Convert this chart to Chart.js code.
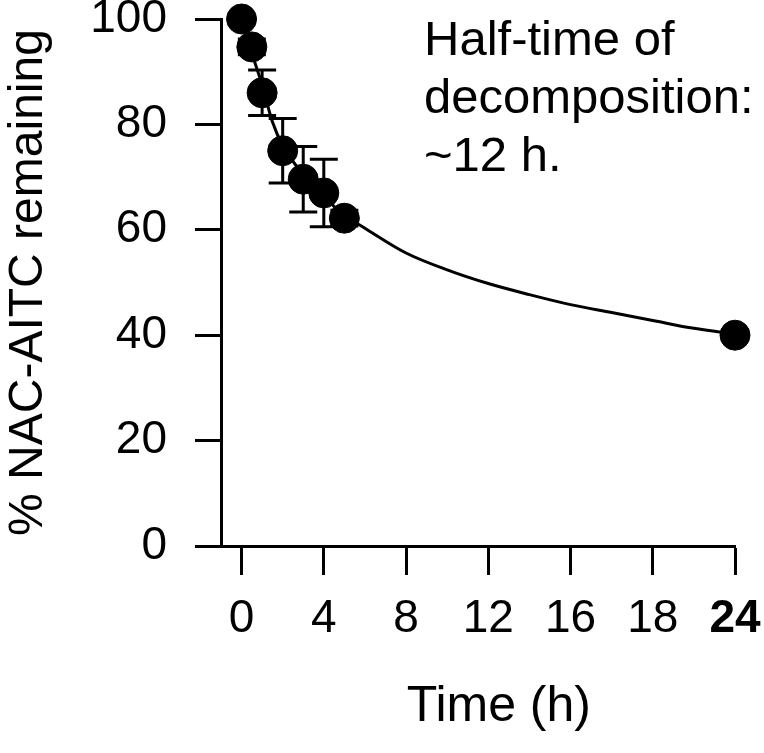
<!DOCTYPE html>
<html>
<head>
<meta charset="utf-8">
<script src="https://cdn.jsdelivr.net/npm/chart.js@4.4.1/dist/chart.umd.min.js"></script>
<style>
  html, body { margin: 0; padding: 0; background: #fff; }
</style>
</head>
<body>
<canvas id="chart" width="764" height="753"></canvas>
<script>
// measured points: time (h), % NAC-AITC remaining, error
var timePoints = [0, 0.5, 1, 2, 3, 4, 5, 24];
var remaining = [100, 94.7, 86, 75, 69.6, 67, 62.2, 40];
var errors = [0, 1.5, 4.3, 6.1, 6.2, 6.4, 1.5, 1];

// fitted decay curve
var fitTimes = [0, 0.5, 1, 1.5, 2, 3, 4, 5, 6, 8, 10, 12, 14, 16, 18, 20, 22, 24];
var fitValues = [100, 93.5, 87.5, 80.5, 76, 70.5, 66.3, 62.8, 60.3, 55.6, 52.4, 49.8, 47.7, 45.8, 44.3, 42.8, 41.3, 40.2];

// axis ticks (the figure labels the 20 h tick as "18")
var xTickValues = [0, 4, 8, 12, 16, 20, 24];
var xTickLabels = ['0', '4', '8', '12', '16', '18', '24'];
var yTickValues = [0, 20, 40, 60, 80, 100];

var noteLines = ['Half-time of', 'decomposition:', '~12 h.'];

var FONT = 'Liberation Sans, Arial, sans-serif';

function toXY(xs, ys) {
    var out = [];
    for (var i = 0; i < xs.length; i++) out.push({x: xs[i], y: ys[i]});
    return out;
}

// error bars drawn under the markers
var errorBars = {
    id: 'errorBars',
    beforeDatasetsDraw: function (chart) {
        var ctx = chart.ctx;
        var xs = chart.scales.x, ys = chart.scales.y;
        ctx.save();
        ctx.strokeStyle = '#000';
        ctx.lineWidth = 3;
        for (var i = 0; i < timePoints.length; i++) {
            if (!errors[i]) continue;
            var px = xs.getPixelForValue(timePoints[i]);
            var top = ys.getPixelForValue(remaining[i] + errors[i]);
            var bot = ys.getPixelForValue(remaining[i] - errors[i]);
            ctx.beginPath();
            ctx.moveTo(px, top); ctx.lineTo(px, bot);
            ctx.moveTo(px - 14, top); ctx.lineTo(px + 14, top);
            ctx.moveTo(px - 14, bot); ctx.lineTo(px + 14, bot);
            ctx.stroke();
        }
        ctx.restore();
    }
};

// text note in the upper right
var note = {
    id: 'note',
    afterDraw: function (chart) {
        var ctx = chart.ctx;
        ctx.save();
        ctx.fillStyle = '#000';
        ctx.font = '49px ' + FONT;
        ctx.textAlign = 'left';
        ctx.textBaseline = 'alphabetic';
        for (var i = 0; i < noteLines.length; i++) {
            ctx.fillText(noteLines[i], 424, 55 + i * 58);
        }
        ctx.restore();
    }
};

new Chart(document.getElementById('chart'), {
    type: 'scatter',
    data: {
        datasets: [{
            label: 'fit',
            data: toXY(fitTimes, fitValues),
            showLine: true,
            borderColor: '#000',
            borderWidth: 3,
            pointRadius: 0,
            cubicInterpolationMode: 'monotone',
            clip: false
        }, {
            label: 'NAC-AITC',
            data: toXY(timePoints, remaining),
            showLine: false,
            pointRadius: 15,
            pointStyle: 'circle',
            backgroundColor: '#000',
            borderColor: '#000',
            borderWidth: 1,
            clip: false
        }]
    },
    options: {
        responsive: false,
        animation: false,
        layout: { padding: { top: 19, right: 29, bottom: 0, left: 0 } },
        plugins: { legend: { display: false }, tooltip: { enabled: false } },
        scales: {
            x: {
                type: 'linear',
                min: -1,
                max: 24,
                afterBuildTicks: function (axis) {
                    axis.ticks = xTickValues.map(function (v) { return {value: v}; });
                },
                afterFit: function (axis) {
                    axis.height = 207;
                    axis.paddingLeft = 0;
                    axis.paddingRight = 0;
                },
                border: { color: '#000', width: 3 },
                grid: { drawOnChartArea: false, color: '#000', tickColor: '#000', tickWidth: 3, tickLength: 29 },
                ticks: {
                    color: '#000', padding: 17, maxRotation: 0, autoSkip: false,
                    font: function (c) {
                        var last = c.tick && c.tick.value === 24;
                        return { family: FONT, size: 46, weight: last ? 'bold' : 'normal' };
                    },
                    callback: function (v, i) { return xTickLabels[i]; }
                },
                title: {
                    display: true, text: '\u00a0\u00a0\u00a0Time (h)', color: '#000',
                    font: { family: FONT, size: 50 },
                    padding: { top: 0, bottom: 16 }
                }
            },
            y: {
                type: 'linear',
                min: 0,
                max: 100,
                afterBuildTicks: function (axis) {
                    axis.ticks = yTickValues.map(function (v) { return {value: v}; });
                },
                afterFit: function (axis) {
                    axis.width = 221;
                    axis.paddingTop = 0;
                    axis.paddingBottom = 0;
                },
                border: { color: '#000', width: 3 },
                grid: { drawOnChartArea: false, color: '#000', tickColor: '#000', tickWidth: 3, tickLength: 26 },
                ticks: {
                    color: '#000', padding: 28,
                    font: { family: FONT, size: 46, lineHeight: 0.8 }
                },
                title: {
                    display: true, text: '% NAC-AITC remaining', color: '#000',
                    font: { family: FONT, size: 48 },
                    padding: { top: 0, bottom: 0 }
                }
            }
        }
    },
    plugins: [errorBars, note]
});
</script>
</body>
</html>
